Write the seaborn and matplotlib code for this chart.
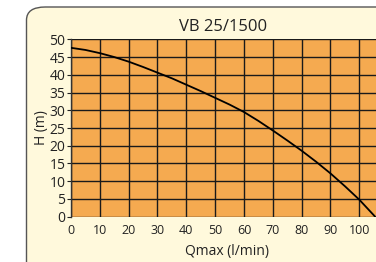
import numpy as np
import pandas as pd
import seaborn as sns
import matplotlib.pyplot as plt
from matplotlib.patches import FancyBboxPatch

# pump curve
flow = [0, 5, 10, 15, 20, 25, 30, 35, 40, 45, 50, 55, 60, 65, 70, 75, 80, 85, 90, 95, 100, 105.5]
head = [47.6, 47.0, 46.1, 45.0, 43.7, 42.2, 40.6, 39.0, 37.2, 35.4, 33.5, 31.6, 29.5, 27.0, 24.3, 21.5, 18.6, 15.5, 12.2, 8.6, 4.8, 0]
x_ticks = [0, 10, 20, 30, 40, 50, 60, 70, 80, 90, 100]
y_ticks = [0, 5, 10, 15, 20, 25, 30, 35, 40, 45, 50]

df = pd.DataFrame({'Q': flow, 'H': head})

sns.set_style('white')
plt.rcParams['font.family'] = ['Open Sans', 'DejaVu Sans']

W, H = 376, 262
fig = plt.figure(figsize=(W / 100, H / 100), dpi=100)
fig.patch.set_facecolor('white')

# rounded cream panel with shadow
shadow = FancyBboxPatch((28 / W, -20 / H), 400 / W, 270 / H,
                        boxstyle='round,pad=0,rounding_size=0.05',
                        transform=fig.transFigure, facecolor='#c8c8c8',
                        edgecolor='none', zorder=0)
panel = FancyBboxPatch((26.5 / W, -18 / H), 400 / W, 273 / H,
                       boxstyle='round,pad=0,rounding_size=0.05',
                       transform=fig.transFigure, facecolor='#fff9dc',
                       edgecolor='#555555', linewidth=1.0, zorder=1)
fig.patches.extend([shadow, panel])

left, right = 71 / W, 1.0
bottom, top = 1 - 216.7 / H, 1 - 39.3 / H
ax = fig.add_axes([left, bottom, right - left, top - bottom])
ax.set_facecolor('#f5aa50')
ax.set_zorder(2)

sns.lineplot(data=df, x='Q', y='H', ax=ax, color='black', linewidth=1.3, zorder=5)

ax.set_xlim(0, (376 - 71) / 28.83 * 10)
ax.set_ylim(0, 50)
ax.set_xticks(x_ticks)
ax.set_yticks(y_ticks)
ax.grid(True, color='#1a1a1a', linewidth=1.0)
ax.set_axisbelow(True)
for s in ['top', 'right', 'bottom']:
    ax.spines[s].set_visible(False)
ax.spines['left'].set_color('#333333')
ax.spines['left'].set_linewidth(1.0)
ax.tick_params(axis='y', left=True, length=3, width=0.8, pad=1, labelsize=10, colors='#222222')
ax.tick_params(axis='x', bottom=False, pad=2, labelsize=9, colors='#222222')

ax.set_xlabel('Qmax (l/min)', fontsize=10, color='#222222')
ax.xaxis.set_label_coords((227 - 71) / (376 - 71), -(244 - 216.7) / (216.7 - 39.3))
ax.set_ylabel('H (m)', fontsize=10, color='#222222', labelpad=0)
ax.set_title('VB 25/1500', fontsize=12, color='#222222', pad=6)

fig.savefig('out.png', dpi=100, facecolor='white')
